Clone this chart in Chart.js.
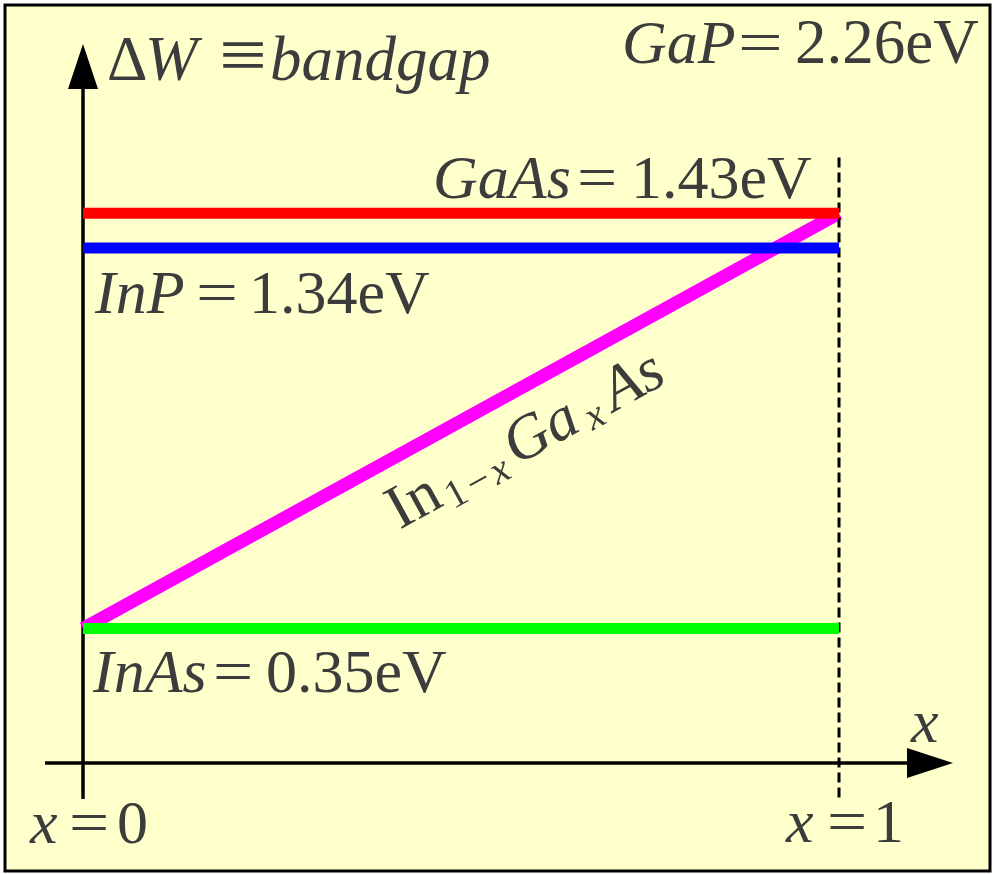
<!DOCTYPE html>
<html>
<head>
<meta charset="utf-8">
<script src="https://cdn.jsdelivr.net/npm/chart.js@4.4.1/dist/chart.umd.min.js"></script>
<style>
  html, body { margin: 0; padding: 0; background: #fff; }
  #wrap { width: 998px; height: 874px; }
</style>
</head>
<body>
<div id="wrap"><canvas id="gapC" width="998" height="874"></canvas></div>
<script>
// composition axis: x = 0 (InAs) .. x = 1 (GaAs)
const xEnds = [0, 1];
// band gaps in eV
const gapGaAs = 1.43;
const gapInP = 1.34;
const gapInAs = 0.35;
const gapGaP = 2.26;
// In(1-x)Ga(x)As goes from InAs gap to GaAs gap
const alloyGap = [gapInAs, gapGaAs];
// dashed guide at x = 1
const guideX = 1;
const guideY = [-0.09, 1.58];

const txtColor = "#3c3c3c";
const serif = "'Liberation Serif', 'Times New Roman', Times, serif";

// draws a row of text pieces; "at" pins a piece to an x position,
// "sx" stretches it horizontally (used for the wide equals signs)
function runs(ctx, x, y, parts) {
    for (const p of parts) {
        ctx.font = (p.it ? "italic " : "normal ") + (p.size || 62) + "px " + serif;
        if (p.at !== undefined) x = p.at;
        x += p.dx || 0;
        const sx = p.sx || 1;
        ctx.save();
        ctx.translate(x, y + (p.dy || 0));
        ctx.scale(sx, p.sy || 1);
        ctx.fillText(p.t, 0, 0);
        ctx.restore();
        x += ctx.measureText(p.t).width * sx + (p.gap || 0);
    }
}

const sketch = {
    id: "sketch",
    beforeDraw(chart) {
        const c = chart.ctx;
        c.save();
        c.fillStyle = "#fff";
        c.fillRect(0, 0, chart.width, chart.height);
        c.fillStyle = "#ffffcc";
        c.fillRect(5, 5, 985, 866);
        c.strokeStyle = "#000";
        c.lineWidth = 3;
        c.strokeRect(5, 5, 985, 866);
        c.restore();
    },
    beforeDatasetsDraw(chart) {
        const c = chart.ctx, xs = chart.scales.x, ys = chart.scales.y;
        const x0 = xs.getPixelForValue(0), y0 = ys.getPixelForValue(0);
        c.save();
        c.strokeStyle = "#000";
        c.fillStyle = "#000";
        c.lineWidth = 3.5;
        // y axis
        c.beginPath();
        c.moveTo(x0, y0 + 36);
        c.lineTo(x0, 88);
        c.stroke();
        c.beginPath();
        c.moveTo(x0, 44);
        c.lineTo(x0 - 15, 89);
        c.lineTo(x0 + 15, 89);
        c.closePath();
        c.fill();
        // x axis
        c.beginPath();
        c.moveTo(45, y0);
        c.lineTo(908, y0);
        c.stroke();
        c.beginPath();
        c.moveTo(953, y0);
        c.lineTo(907, y0 - 15);
        c.lineTo(907, y0 + 15);
        c.closePath();
        c.fill();
        c.restore();
    },
    afterDatasetsDraw(chart) {
        const c = chart.ctx, xs = chart.scales.x, ys = chart.scales.y;
        c.save();
        c.fillStyle = txtColor;
        c.textBaseline = "alphabetic";
        c.textAlign = "left";

        runs(c, 107, 80, [
            {t: "\u0394", size: 63},
            {t: "W", it: true, size: 63, at: 145},
            {t: "\u2261", size: 63, at: 219, sx: 1.35, sy: 1.2},
            {t: "bandgap", it: true, size: 63, at: 270}
        ]);
        runs(c, 622, 63, [
            {t: "GaP", it: true},
            {t: "=", at: 738, sx: 1.28},
            {t: gapGaP.toFixed(2) + "eV", at: 795, size: 63}
        ]);
        const yGaAs = ys.getPixelForValue(gapGaAs) - 15;
        runs(c, 433, yGaAs, [
            {t: "GaAs", it: true},
            {t: "=", at: 577, sx: 1.15},
            {t: gapGaAs.toFixed(2) + "eV", at: 631}
        ]);
        const yInP = ys.getPixelForValue(gapInP) + 65;
        runs(c, 95, yInP, [
            {t: "InP", it: true},
            {t: "=", at: 196, sx: 1.2},
            {t: gapInP.toFixed(2) + "eV", at: 249}
        ]);
        const yInAs = ys.getPixelForValue(gapInAs) + 64;
        runs(c, 93, yInAs, [
            {t: "InAs", it: true},
            {t: "=", at: 213, sx: 1.15},
            {t: gapInAs.toFixed(2) + "eV", at: 266}
        ]);
        runs(c, 30, 843, [
            {t: "x", it: true},
            {t: "=", at: 69, sx: 1.15},
            {t: "0", at: 117}
        ]);
        runs(c, 786, 842, [
            {t: "x", it: true},
            {t: "=", at: 827, sx: 1.15},
            {t: "1", at: 873}
        ]);
        runs(c, 911, 742, [{t: "x", it: true}]);

        // alloy label along the magenta line
        const ax = xs.getPixelForValue(xEnds[0]), ay = ys.getPixelForValue(alloyGap[0]);
        const bx = xs.getPixelForValue(xEnds[1]), by = ys.getPixelForValue(alloyGap[1]);
        const ang = Math.atan2(by - ay, bx - ax);
        c.translate((ax + bx) / 2, (ay + by) / 2);
        c.rotate(ang);
        runs(c, -106, 66, [
            {t: "In", size: 62, gap: 5},
            {t: "1", size: 40, dy: 8, gap: 4},
            {t: "\u2212", size: 40, dy: 8, gap: 4},
            {t: "x", it: true, size: 40, dy: 8, gap: 8},
            {t: "Ga", it: true, size: 62, gap: 8},
            {t: "x", it: true, size: 40, dy: 6, gap: 10},
            {t: "As", it: true, size: 62}
        ]);
        c.restore();
    }
};

const flat = (y) => xEnds.map((x) => ({x: x, y: y}));

new Chart(document.getElementById("gapC"), {
    type: "scatter",
    data: {
        datasets: [
            {label: "GaAs", data: flat(gapGaAs), borderColor: "#ff0000", borderWidth: 11, showLine: true, pointRadius: 0},
            {label: "InP", data: flat(gapInP), borderColor: "#0000ff", borderWidth: 11, showLine: true, pointRadius: 0},
            {label: "InAs", data: flat(gapInAs), borderColor: "#00ff00", borderWidth: 11, showLine: true, pointRadius: 0},
            {label: "x=1", data: guideY.map((y) => ({x: guideX, y: y})), borderColor: "#000", borderWidth: 3,
             borderDash: [10, 5], showLine: true, pointRadius: 0},
            {label: "InGaAs", data: xEnds.map((x, i) => ({x: x, y: alloyGap[i]})), borderColor: "#ff00ff",
             borderWidth: 13, showLine: true, pointRadius: 0}
        ]
    },
    options: {
        responsive: false,
        animation: false,
        layout: {padding: 0},
        plugins: {legend: {display: false}, tooltip: {enabled: false}},
        scales: {
            x: {type: "linear", min: -0.1098, max: 1.2103, display: false},
            y: {type: "linear", min: -0.2888, max: 1.9849, display: false}
        }
    },
    plugins: [sketch]
});
</script>
</body>
</html>
